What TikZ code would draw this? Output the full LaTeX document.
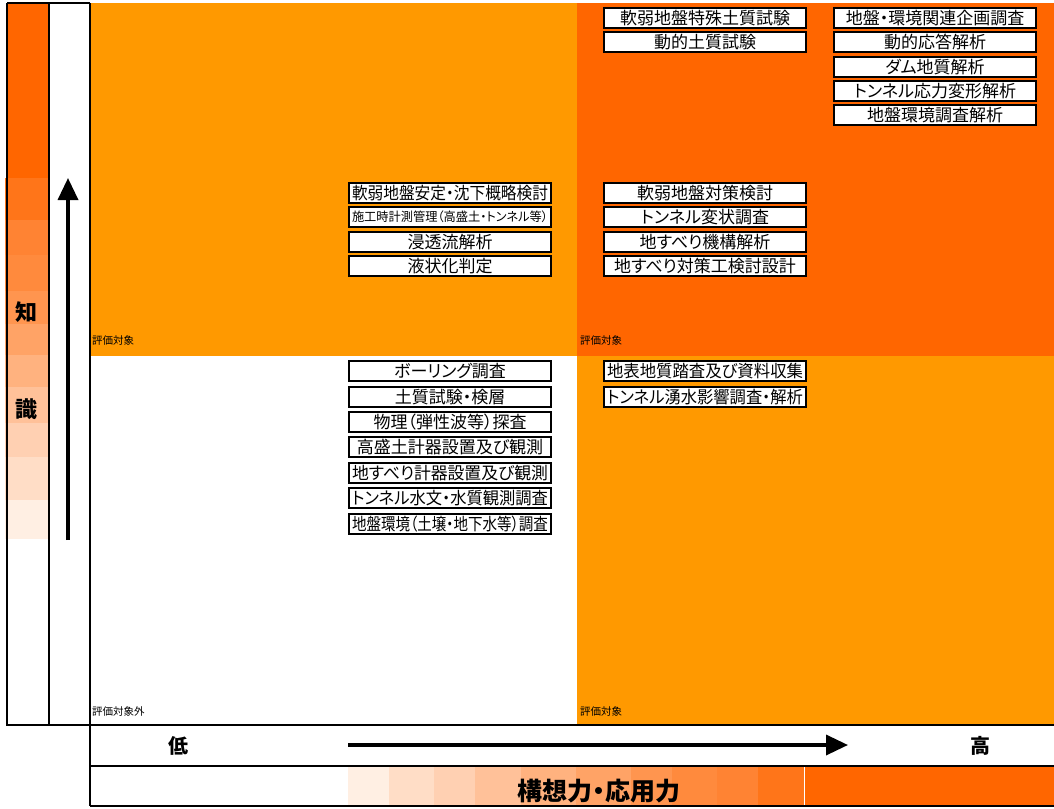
\documentclass[tikz,border=0pt]{standalone}
\usepackage{fontspec}
\setmainfont{Noto Sans CJK JP}[RawFeature=+palt]
\usetikzlibrary{arrows.meta}
\definecolor{dkor}{HTML}{FF6600}
\definecolor{mdor}{HTML}{FF9900}
\definecolor{g1}{HTML}{FF7519}
\definecolor{g2}{HTML}{FF8333}
\definecolor{g3}{HTML}{FF8A3D}
\definecolor{g4}{HTML}{FF954F}
\definecolor{g5}{HTML}{FFA366}
\definecolor{g6}{HTML}{FFB27F}
\definecolor{g7}{HTML}{FFC199}
\definecolor{g8}{HTML}{FFD0B2}
\definecolor{g9}{HTML}{FFDDC6}
\definecolor{g10}{HTML}{FFEFE3}
\newsavebox\fitbx
\newcommand\fitw[1]{\sbox\fitbx{#1}\ifdim\wd\fitbx>196pt\resizebox{196pt}{\height}{\usebox\fitbx}\else\usebox\fitbx\fi}
\tikzset{
  item/.style={draw=black, line width=1.6pt, fill=white, minimum width=202pt,
    minimum height=20pt, inner sep=0pt, font=\fontsize{17}{17}\selectfont},
  smalllab/.style={anchor=west, inner sep=0pt, font=\fontsize{10.5}{10.5}\selectfont},
  biglab/.style={inner sep=0pt, font=\fontsize{22}{22}\selectfont\bfseries},
  border/.style={line width=2pt, black},
  bigarrow/.style={line width=3.5pt, -{Triangle[length=22pt,width=20pt]}}
}
\begin{document}
\begin{tikzpicture}[x=1pt,y=-1pt]
\useasboundingbox (0,0) rectangle (1054,808);
\fill[white] (0,0) rectangle (1054,808);
% quadrants
\fill[mdor] (90,3) rectangle (577,356);
\fill[dkor] (577,3) rectangle (1054,356);
\fill[mdor] (577,356) rectangle (1054,725);
% left column
\fill[dkor] (7,3) rectangle (49,178);
\foreach \ya/\yb/\c in {178/220/g1,220/255/g2,255/291/g3,291/324/g4,324/355/g5,355/387/g6,387/423/g7,423/457/g8,457/500/g9,500/539/g10}
  \fill[\c] (5,\ya) rectangle (48,\yb);
% bottom gradient
\foreach \xa/\xb/\c in {348/389/g10,389/434/g9,434/475/g8,475/521/g7,521/576/g6,576/631/g5,631/672/g4,672/717/g3,717/758/g2,758/804/g1}
  \fill[\c] (\xa,767) rectangle (\xb,806);
\fill[dkor] (805,767) rectangle (1054,806);
% borders
\draw[border] (7,3) -- (90,3);
\draw[border] (7,3) -- (7,725);
\draw[border] (49,3) -- (49,725);
\draw[border] (90,3) -- (90,806);
\draw[border] (6,725) -- (1054,725);
\draw[border] (90,766) -- (1054,766);
\draw[border] (90,806) -- (1054,806);
% small labels
\node[smalllab] (l1) at (92,341) {評価対象};
\node[smalllab] (l2) at (580,341) {評価対象};
\node[smalllab] (l3) at (92,711) {評価対象外};
\node[smalllab] (l4) at (580,711) {評価対象};
% big labels
\node[biglab] (chi) at (27,312) {知};
\node[biglab] (shiki) at (27,409) {識};
\node[biglab, font=\fontsize{20}{20}\selectfont\bfseries] (low) at (178,746) {低};
\node[biglab, font=\fontsize{20}{20}\selectfont\bfseries] (high) at (980,746) {高};
\node[biglab, font=\fontsize{25}{25}\selectfont\bfseries] (kousou) at (599,791) {構想力・応用力};
% arrows
\coordinate (va) at (68,540);
\coordinate (vb) at (68,178);
\coordinate (ha) at (348,745);
\coordinate (hb) at (848,745);
\draw[bigarrow] (va) -- (vb);
\draw[bigarrow] (ha) -- (hb);
% column A upper
\node[item] (a1) at (450,193) {\fitw{軟弱地盤安定・沈下概略検討}};
\node[item, font=\fontsize{12.5}{12.5}\selectfont] (a2) at (450,217) {\fitw{施工時計測管理（高盛土・トンネル等）}};
\node[item] (a3) at (450,242) {\fitw{浸透流解析}};
\node[item] (a4) at (450,266) {\fitw{液状化判定}};
% column A lower
\node[item] (a5) at (450,371) {\fitw{ボーリング調査}};
\node[item] (a6) at (450,397) {\fitw{土質試験・検層}};
\node[item] (a7) at (450,422) {\fitw{物理（弾性波等）探査}};
\node[item] (a8) at (450,447) {\fitw{高盛土計器設置及び観測}};
\node[item] (a9) at (450,473) {\fitw{地すべり計器設置及び観測}};
\node[item] (a10) at (450,498) {\fitw{トンネル水文・水質観測調査}};
\node[item] (a11) at (450,524) {\fitw{地盤環境（土壌・地下水等）調査}};
% column B
\node[item] (b1) at (705,18) {\fitw{軟弱地盤特殊土質試験}};
\node[item] (b2) at (705,42) {\fitw{動的土質試験}};
\node[item] (b3) at (705,193) {\fitw{軟弱地盤対策検討}};
\node[item] (b4) at (705,217) {\fitw{トンネル変状調査}};
\node[item] (b5) at (705,242) {\fitw{地すべり機構解析}};
\node[item] (b6) at (705,266) {\fitw{地すべり対策工検討設計}};
\node[item] (b7) at (705,371) {\fitw{地表地質踏査及び資料収集}};
\node[item] (b8) at (705,397) {\fitw{トンネル湧水影響調査・解析}};
% column C
\node[item] (c1) at (935,18) {\fitw{地盤・環境関連企画調査}};
\node[item] (c2) at (935,42) {\fitw{動的応答解析}};
\node[item] (c3) at (935,67) {\fitw{ダム地質解析}};
\node[item] (c4) at (935,91) {\fitw{トンネル応力変形解析}};
\node[item] (c5) at (935,115) {\fitw{地盤環境調査解析}};
\end{tikzpicture}
\end{document}
